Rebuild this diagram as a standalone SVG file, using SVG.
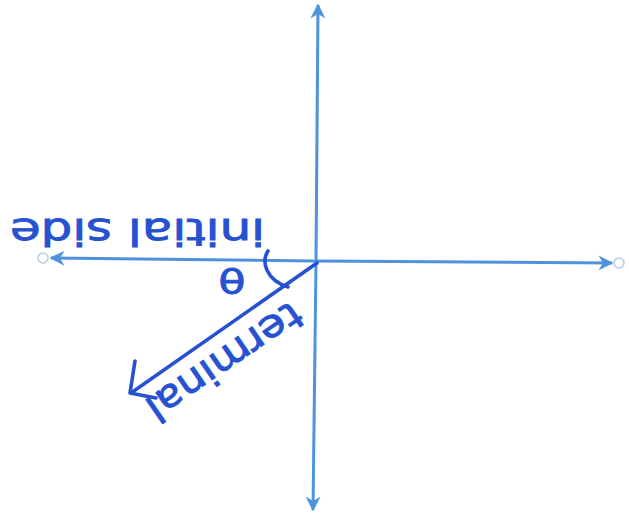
<svg xmlns="http://www.w3.org/2000/svg" width="629" height="520" viewBox="0 0 629 520">
  <defs>
    <marker id="axisHead" viewBox="0 0 10 10" refX="9" refY="5" markerWidth="5" markerHeight="5" orient="auto" markerUnits="strokeWidth">
      <path d="M0,0 L10,5 L0,10 L3,5 Z" fill="#4f93dc"/>
    </marker>
  </defs>
  <style>
    .axis { stroke: #4f93dc; stroke-width: 3; fill: none; marker-end: url(#axisHead); }
    .end { stroke: #b8cde0; stroke-width: 1.6; fill: #ffffff; }
    .ink { stroke: #2652d2; stroke-width: 3.6; fill: none; stroke-linecap: round; stroke-linejoin: round; }
    .hand { font-family: "DejaVu Sans", "Liberation Sans", sans-serif; fill: #2652d2; stroke: #2652d2; stroke-width: 0.9; }
  </style>
  <rect width="629" height="520" fill="#ffffff"/>

  <g id="connectors">
    <line id="axis-up" class="axis" x1="316" y1="262" x2="318" y2="5"/>
    <line id="axis-down" class="axis" x1="316" y1="262" x2="313" y2="510"/>
    <line id="axis-right" class="axis" x1="316" y1="261" x2="612" y2="263"/>
    <line id="axis-left" class="axis" x1="316" y1="261" x2="51" y2="258"/>
    <circle class="end" cx="43" cy="258" r="5"/>
    <circle class="end" cx="619" cy="263" r="5"/>
  </g>

  <g id="terminal-side">
    <path class="ink" d="M317,263 L131,393"/>
    <path class="ink" d="M135,361 L130,393 L156,398"/>
    <text class="hand" font-size="39" textLength="180" lengthAdjust="spacingAndGlyphs" transform="translate(291,300) rotate(145.6)">terminal</text>
  </g>

  <g id="angle">
    <path class="ink" d="M268,251 C261,262 266,280 288,287"/>
    <text class="hand" font-size="34" text-anchor="middle" transform="translate(232,268) rotate(180) scale(1.3,1)">θ</text>
  </g>

  <g id="initial-side">
    <text class="hand" font-size="38" textLength="255" lengthAdjust="spacingAndGlyphs" transform="translate(265,219) rotate(180)">initial side</text>
  </g>
</svg>
